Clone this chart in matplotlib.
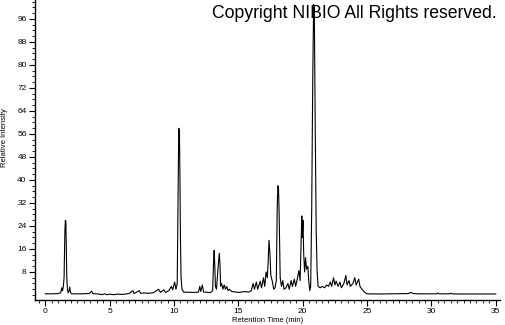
import matplotlib

matplotlib.use("Agg")
import matplotlib.pyplot as plt
from matplotlib.ticker import MultipleLocator

# chromatogram trace (retention time in min, relative intensity)
rt_min = [
    0.0, 0.5, 1.0, 1.2, 1.28, 1.34, 1.40, 1.46, 1.52, 1.56, 1.60, 1.63, 1.67, 1.72, 1.78,
    1.85, 1.90, 1.95, 2.05, 2.6, 3.4, 3.6, 3.7, 4.2, 4.4, 4.6, 4.8, 5.0, 5.3, 5.6, 6.0,
    6.5, 6.8, 6.9, 7.3, 7.4, 7.7, 8.0, 8.4, 8.8, 8.95, 9.2, 9.35, 9.6, 9.8, 9.9, 10.05,
    10.15, 10.25, 10.32, 10.37, 10.42, 10.46, 10.50, 10.55, 10.62, 10.75, 11.5, 11.9,
    12.0, 12.08, 12.2, 12.3, 12.5, 12.8, 13.0, 13.08, 13.12, 13.17, 13.22, 13.3, 13.45,
    13.52, 13.57, 13.62, 13.7, 13.8, 13.9, 14.0, 14.1, 14.2, 14.3, 14.5, 15.0, 15.5, 15.8,
    16.0, 16.15, 16.25, 16.4, 16.5, 16.7, 16.8, 16.95, 17.05, 17.15, 17.25, 17.32, 17.38,
    17.45, 17.52, 17.65, 17.75, 17.85, 17.95, 18.02, 18.07, 18.12, 18.17, 18.25, 18.35,
    18.45, 18.55, 18.7, 18.85, 18.95, 19.1, 19.2, 19.35, 19.45, 19.6, 19.7, 19.8, 19.88,
    19.93, 19.97, 20.02, 20.08, 20.15, 20.22, 20.3, 20.4, 20.47, 20.55, 20.62, 20.7, 20.78,
    20.85, 20.9, 20.97, 21.05, 21.12, 21.2, 21.35, 21.5, 21.7, 21.85, 22.0, 22.15, 22.25,
    22.4, 22.5, 22.6, 22.75, 22.9, 23.0, 23.2, 23.35, 23.45, 23.6, 23.7, 23.9, 24.05, 24.15,
    24.35, 24.45, 24.6, 24.8, 25.0, 26.0, 28.2, 28.4, 28.6, 29.0, 30.4, 30.5, 30.6, 31.4,
    31.5, 31.6, 32.0, 35.0,
]
rel_int = [
    0.4, 0.4, 0.5, 0.8, 2.5, 1.5, 3.0, 6.0, 22.0, 26.0, 25.5, 17.0, 6.0, 2.0, 0.8,
    1.5, 2.8, 1.0, 0.4, 0.4, 0.5, 1.3, 0.5, 0.3, 0.1, 0.4, 0.1, 0.3, 0.1, 0.3, 0.2,
    0.5, 1.5, 0.5, 1.5, 0.6, 0.7, 0.6, 0.8, 2.0, 0.9, 1.8, 0.9, 1.5, 3.0, 1.8, 4.5,
    2.0, 4.0, 35.0, 58.0, 57.0, 42.0, 20.0, 6.0, 2.0, 1.0, 0.9, 1.0,
    3.0, 1.2, 3.5, 1.0, 1.0, 0.8, 1.5, 12.0, 15.5, 10.0, 3.0, 2.0, 11.0,
    14.5, 11.0, 3.0, 4.0, 2.0, 3.5, 2.0, 3.0, 1.5, 2.0, 1.2, 0.9, 1.2, 1.0,
    1.5, 4.0, 2.0, 4.5, 2.0, 4.8, 2.5, 6.0, 3.0, 8.0, 6.0, 12.0, 19.0,
    15.0, 7.0, 4.5, 2.0, 2.5, 5.0, 30.0, 38.0, 37.0, 28.0, 6.0, 3.0,
    5.0, 2.0, 2.5, 4.0, 2.0, 5.0, 3.0, 5.5, 3.0, 6.0, 8.5, 5.0, 18.0,
    27.5, 20.0, 26.0, 14.0, 8.0, 13.0, 9.0, 10.0, 5.0, 1.5, 3.0, 30.0, 75.0,
    101.0, 100.0, 60.0, 22.0, 8.0, 3.0, 2.5, 3.0, 2.5, 3.5, 3.0, 4.5, 3.0,
    6.0, 3.5, 4.8, 3.0, 4.5, 2.5, 4.0, 6.8, 3.5, 5.0, 3.0, 4.0, 6.0, 3.5,
    5.5, 3.0, 2.0, 1.0, 0.4, 0.35, 0.5, 0.9, 0.5, 0.4, 0.4, 0.7, 0.4, 0.4,
    0.6, 0.4, 0.35, 0.35,
]
y_ticks = [8, 16, 24, 32, 40, 48, 56, 64, 72, 80, 88, 96]

plt.rcParams["font.family"] = ["Liberation Sans", "DejaVu Sans"]

fig = plt.figure(figsize=(5.05, 3.25), dpi=100)
ax = fig.add_axes([35 / 505, 25 / 325, 465 / 505, 300 / 325])

ax.plot(rt_min, rel_int, color="black", lw=0.8)

ax.set_xlim(-0.8, 35.33)
ax.set_ylim(-1.74, 102.6)

ax.xaxis.set_major_locator(MultipleLocator(5))
ax.xaxis.set_minor_locator(MultipleLocator(0.5))
ax.set_yticks(y_ticks)
ax.yaxis.set_minor_locator(MultipleLocator(2))

for s in ("top", "right"):
    ax.spines[s].set_visible(False)
for s in ("left", "bottom"):
    ax.spines[s].set_linewidth(1.0)

ax.tick_params(axis="both", which="major", direction="out", length=4, width=0.8,
               labelsize=6, pad=2)
ax.tick_params(axis="both", which="minor", direction="out", length=2, width=0.6)

ax.set_xlabel("Retention Time (min)", fontsize=5.5, labelpad=1)
ax.set_ylabel("Relative Intensity", fontsize=5.5)
ax.yaxis.set_label_coords(-0.058, 0.54)

fig.text(497 / 505, 1 - 14 / 325, "Copyright NIBIO All Rights reserved.",
         ha="right", va="center", fontsize=12.7, color="black")

plt.savefig("out.png", dpi=100)
